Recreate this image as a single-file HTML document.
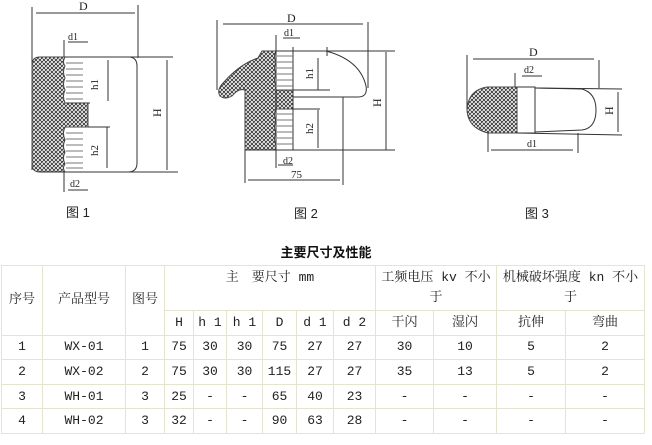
<!DOCTYPE html>
<html><head><meta charset="utf-8"><style>
body{margin:0;width:652px;height:445px;background:#fff;position:relative;overflow:hidden;font-family:"Liberation Serif","Noto Serif CJK SC",serif}
svg{position:absolute;left:0;top:0}
.t{position:absolute;left:0;top:242px;width:652px;text-align:center;font:bold 13px "Noto Sans CJK SC",sans-serif;color:#111}
table{position:absolute;left:1px;top:265px;border-collapse:collapse;font:13px "Liberation Mono","Noto Serif CJK SC",monospace;color:#222}
td{border:1px solid #e4e4cf;text-align:center;padding:0;height:23.6px;line-height:16px}
</style></head><body>
<svg width="652" height="240" viewBox="0 0 652 240">
<defs>
<pattern id="h" width="4" height="4" patternUnits="userSpaceOnUse">
<rect width="4" height="4" fill="#fff"/>
<path d="M-1,1 l2,-2 M0,4 l4,-4 M3,5 l2,-2 M-1,3 l2,2 M0,0 l4,4 M3,-1 l2,2" stroke="#333" stroke-width="0.9"/>
</pattern>
</defs>
<g stroke="#333" stroke-width="1" fill="none">
<!-- Fig 1 -->
<line x1="32" y1="7" x2="32" y2="170"/><line x1="138" y1="5" x2="138" y2="58"/>
<line x1="36" y1="13" x2="135" y2="13"/>
<path d="M40,57 H65 Q62,62 65,66 Q62,72 65,78 Q62,84 65,90 Q62,96 65,103 H88 V127 H65 Q62,133 65,140 Q62,146 65,152 Q62,158 65,164 Q62,168 65,172 H40 Q32,172 32,164 V65 Q32,57 40,57Z" fill="url(#h)" stroke="#444"/>
<path d="M65,57 H130 Q137,58 137,66 V163 Q137,172 128,172 H40"/>
<line x1="128" y1="172" x2="178" y2="172"/><line x1="130" y1="57" x2="173" y2="57"/>
<line x1="65" y1="103" x2="90" y2="103"/><line x1="88" y1="127" x2="110" y2="127"/>
<g stroke="#777"><path d="M66,63h17M66,69h17M66,75h17M66,81h17M66,87h17M66,93h17M66,99h17M66,133h17M66,139h17M66,145h17M66,151h17M66,157h17M66,163h17M66,168h17"/></g>
<line x1="108" y1="60" x2="108" y2="101"/><line x1="107" y1="127" x2="107" y2="168"/>
<line x1="167" y1="60" x2="167" y2="170"/>
<line x1="64" y1="40" x2="64" y2="57"/><line x1="68" y1="42" x2="88" y2="42"/>
<line x1="64" y1="172" x2="64" y2="192"/><line x1="68" y1="190" x2="88" y2="190"/>
<!-- Fig 2 -->
<line x1="217" y1="20" x2="217" y2="90"/><line x1="368" y1="22" x2="368" y2="88"/>
<line x1="223" y1="24" x2="363" y2="24"/>
<path d="M262,51 H276 Q273,57 276,62 Q273,68 276,74 Q273,80 276,86 V90 H293 V109 H276 Q273,115 276,121 Q273,127 276,133 Q273,139 276,145 V150 H245 V90 Q238,88 232,96 Q225,100 220,96 Q216,90 224,82 Q240,64 258,58 Z" fill="url(#h)" stroke="#444"/>
<line x1="276" y1="35" x2="276" y2="150"/><line x1="293" y1="47" x2="293" y2="150"/>
<path d="M276,51 H326 Q360,60 366,86 Q368,97 358,97 H293"/>
<line x1="326" y1="51" x2="395" y2="51"/><line x1="327" y1="47" x2="327" y2="56"/>
<line x1="293" y1="90" x2="330" y2="90"/><line x1="293" y1="109" x2="320" y2="109"/>
<line x1="343" y1="97" x2="343" y2="185"/>
<line x1="245" y1="150" x2="395" y2="150"/><line x1="245" y1="150" x2="245" y2="183"/>
<g stroke="#777"><path d="M277,56h16M277,62h16M277,68h16M277,74h16M277,80h16M277,86h16M277,114h16M277,120h16M277,126h16M277,132h16M277,138h16M277,144h16"/></g>
<line x1="318" y1="58" x2="318" y2="90"/><line x1="318" y1="110" x2="318" y2="148"/>
<line x1="386" y1="52" x2="386" y2="150"/>
<line x1="283" y1="38" x2="300" y2="38"/><line x1="276" y1="150" x2="276" y2="168"/><line x1="278" y1="165" x2="293" y2="165"/>
<line x1="248" y1="180" x2="340" y2="180"/>
<!-- Fig 3 -->
<line x1="467" y1="55" x2="467" y2="110"/><line x1="599" y1="60" x2="599" y2="88"/>
<line x1="473" y1="59" x2="594" y2="59"/>
<line x1="515" y1="73" x2="515" y2="87"/><line x1="522" y1="76" x2="542" y2="76"/>
<path d="M487,87 H517 V133 H488 Q468,128 467,110 Q468,90 487,87Z" fill="url(#h)" stroke="#444"/>
<path d="M517,87 H535 V133 H517"/>
<path d="M535,88 L582,89 Q596,93 596,110 Q596,128 582,130 L535,132"/>
<line x1="535" y1="88" x2="622" y2="89"/><line x1="517" y1="133" x2="622" y2="135"/>
<line x1="618" y1="92" x2="618" y2="132"/>
<line x1="488" y1="133" x2="488" y2="152"/><line x1="578" y1="133" x2="578" y2="153"/>
<line x1="491" y1="150" x2="573" y2="150"/>
</g>
<g font-family="Liberation Serif,serif" font-size="12" fill="#222">
<text x="79" y="10">D</text><text x="68" y="40" font-size="10">d1</text>
<text x="86" y="86" font-size="11" transform="rotate(-90 94 82)">h1</text>
<text x="86" y="152" font-size="11" transform="rotate(-90 94 148)">h2</text>
<text x="152" y="116" transform="rotate(-90 157 112)">H</text>
<text x="70" y="187" font-size="10">d2</text>
<text x="287" y="22">D</text><text x="284" y="36" font-size="10">d1</text>
<text x="304" y="78" font-size="11" transform="rotate(-90 309 74)">h1</text>
<text x="304" y="133" font-size="11" transform="rotate(-90 309 129)">h2</text>
<text x="372" y="106" transform="rotate(-90 377 102)">H</text>
<text x="283" y="164" font-size="10">d2</text><text x="291" y="178" font-size="11">75</text>
<text x="529" y="56">D</text><text x="524" y="73" font-size="10">d2</text>
<text x="603" y="115" transform="rotate(-90 608 110)">H</text>
<text x="527" y="147" font-size="10">d1</text>
</g>
<g font-family="Liberation Sans,Noto Sans CJK SC,sans-serif" font-size="13" fill="#222">
<text x="66" y="217">图 1</text><text x="294" y="218">图 2</text><text x="525" y="218">图 3</text>
</g>
</svg>
<div class="t">主要尺寸及性能</div>
<table>
<colgroup><col style="width:41px"><col style="width:83px"><col style="width:39px"><col style="width:29px"><col style="width:33px"><col style="width:36px"><col style="width:34px"><col style="width:37px"><col style="width:42px"><col style="width:58px"><col style="width:63px"><col style="width:69px"><col style="width:79px"></colgroup>
<tr><td rowspan="2">序号</td><td rowspan="2">产品型号</td><td rowspan="2">图号</td><td colspan="6" style="height:44px;vertical-align:top;padding-top:4px;box-sizing:border-box">主　要尺寸 mm</td><td colspan="2" style="line-height:20px;height:44px">工频电压 kv 不小于</td><td colspan="2" style="line-height:20px;height:44px">机械破坏强度 kn 不小于</td></tr>
<tr><td>H</td><td>h 1</td><td>h 1</td><td>D</td><td>d 1</td><td>d 2</td><td>干闪</td><td>湿闪</td><td>抗伸</td><td>弯曲</td></tr>
<tr><td>1</td><td>WX-01</td><td>1</td><td>75</td><td>30</td><td>30</td><td>75</td><td>27</td><td>27</td><td>30</td><td>10</td><td>5</td><td>2</td></tr>
<tr><td>2</td><td>WX-02</td><td>2</td><td>75</td><td>30</td><td>30</td><td>115</td><td>27</td><td>27</td><td>35</td><td>13</td><td>5</td><td>2</td></tr>
<tr><td>3</td><td>WH-01</td><td>3</td><td>25</td><td>-</td><td>-</td><td>65</td><td>40</td><td>23</td><td>-</td><td>-</td><td>-</td><td>-</td></tr>
<tr><td>4</td><td>WH-02</td><td>3</td><td>32</td><td>-</td><td>-</td><td>90</td><td>63</td><td>28</td><td>-</td><td>-</td><td>-</td><td>-</td></tr>
</table>
</body></html>
